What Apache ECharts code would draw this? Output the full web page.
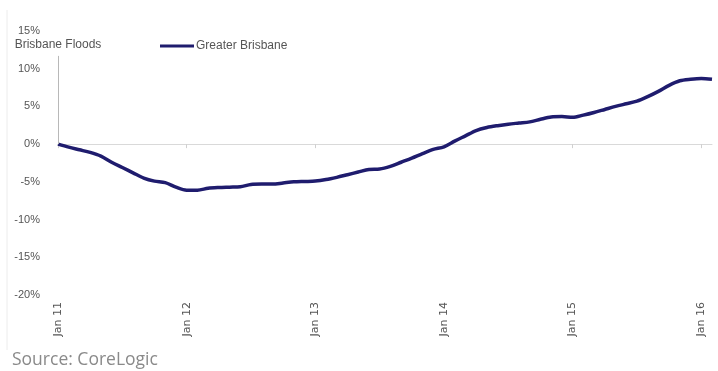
<!DOCTYPE html>
<html>

<head>
    <meta charset="utf-8">
    <title>Greater Brisbane</title>
    <script src="https://cdn.jsdelivr.net/npm/echarts@6/dist/echarts.min.js"></script>
    <style>
        html, body { margin: 0; padding: 0; background: #fff; }
        #chart { width: 718px; height: 371px; }
    </style>
</head>

<body>
    <div id="chart"></div>

    <script type="text/javascript">
        // monthly, Jan 2011 .. Feb 2016
        var months = [
            'Jan 11', 'Feb 11', 'Mar 11', 'Apr 11', 'May 11', 'Jun 11', 'Jul 11', 'Aug 11', 'Sep 11', 'Oct 11', 'Nov 11', 'Dec 11',
            'Jan 12', 'Feb 12', 'Mar 12', 'Apr 12', 'May 12', 'Jun 12', 'Jul 12', 'Aug 12', 'Sep 12', 'Oct 12', 'Nov 12', 'Dec 12',
            'Jan 13', 'Feb 13', 'Mar 13', 'Apr 13', 'May 13', 'Jun 13', 'Jul 13', 'Aug 13', 'Sep 13', 'Oct 13', 'Nov 13', 'Dec 13',
            'Jan 14', 'Feb 14', 'Mar 14', 'Apr 14', 'May 14', 'Jun 14', 'Jul 14', 'Aug 14', 'Sep 14', 'Oct 14', 'Nov 14', 'Dec 14',
            'Jan 15', 'Feb 15', 'Mar 15', 'Apr 15', 'May 15', 'Jun 15', 'Jul 15', 'Aug 15', 'Sep 15', 'Oct 15', 'Nov 15', 'Dec 15',
            'Jan 16', 'Feb 16'
        ];

        // % change since Jan 2011
        var greater_brisbane = [
            0, -0.4, -0.75, -1.1, -1.6, -2.4, -3.1, -3.8, -4.5, -4.9, -5.1, -5.7,
            -6.1, -6.1, -5.85, -5.75, -5.7, -5.65, -5.35, -5.3, -5.3, -5.15, -5.0, -4.95,
            -4.9, -4.7, -4.4, -4.05, -3.7, -3.35, -3.3, -2.95, -2.4, -1.85, -1.25, -0.7,
            -0.35, 0.4, 1.1, 1.8, 2.2, 2.45, 2.65, 2.8, 2.95, 3.3, 3.6, 3.65,
            3.55, 3.85, 4.2, 4.6, 5.0, 5.35, 5.7, 6.3, 7.0, 7.8, 8.4, 8.6,
            8.7, 8.6
        ];

        var y_min = -20;
        var y_max = 15;
        var y_step = 5;

        // flood marker: vertical line at Jan 11 up to this level
        var flood_month = 'Jan 11';
        var flood_top = 11.7;
        var flood_label = 'Brisbane Floods';

        var series_name = 'Greater Brisbane';
        var source_text = 'Source: CoreLogic';

        var chart = echarts.init(document.getElementById('chart'), null, { renderer: 'canvas' });

        var option = {
            animation: false,
            backgroundColor: '#ffffff',
            textStyle: { fontFamily: 'Liberation Sans' },
            grid: { left: 58, right: 6, top: 31, bottom: 76 },
            legend: {
                data: [series_name],
                left: 155,
                top: 35,
                icon: 'rect',
                itemWidth: 34,
                itemHeight: 3,
                itemGap: 2,
                textStyle: { color: '#555', fontSize: 12, padding: [0, 0, 0, -3] }
            },
            xAxis: [{
                type: 'category',
                data: months,
                boundaryGap: false,
                position: 'bottom',
                axisLine: { show: false, onZero: false },
                axisTick: { show: false },
                splitLine: { show: false },
                axisLabel: {
                    rotate: 90,
                    interval: 11,
                    margin: 7,
                    color: '#555',
                    fontSize: 11,
                    fontFamily: 'DejaVu Sans'
                }
            }, {
                type: 'category',
                data: months,
                boundaryGap: false,
                position: 'top',
                axisLine: { show: true, onZero: true, lineStyle: { color: '#d9d9d9', width: 1 } },
                axisTick: { show: true, inside: true, interval: 11, length: 4, lineStyle: { color: '#d0d0d0' } },
                axisLabel: { show: false },
                splitLine: { show: false }
            }],
            yAxis: {
                type: 'value',
                min: y_min,
                max: y_max,
                interval: y_step,
                axisLine: { show: false },
                axisTick: { show: false },
                splitLine: { show: false },
                axisLabel: {
                    formatter: '{value}%',
                    margin: 18,
                    color: '#555',
                    fontSize: 11
                }
            },
            series: [{
                name: series_name,
                type: 'line',
                xAxisIndex: 0,
                data: greater_brisbane,
                symbol: 'none',
                smooth: 0.3,
                lineStyle: { color: '#1f1c6e', width: 3.5 },
                itemStyle: { color: '#1f1c6e' },
                markLine: {
                    silent: true,
                    symbol: 'none',
                    lineStyle: { color: '#b8b8b8', width: 1, type: 'solid' },
                    label: {
                        show: true,
                        position: 'end',
                        distance: 5,
                        formatter: flood_label,
                        color: '#555',
                        fontSize: 12
                    },
                    data: [[
                        { coord: [flood_month, 0] },
                        { coord: [flood_month, flood_top] }
                    ]]
                }
            }],
            graphic: [{
                type: 'line',
                shape: { x1: 7, y1: 10, x2: 7, y2: 350 },
                style: { stroke: '#ececec', lineWidth: 1 }
            }, {
                type: 'text',
                left: 12,
                top: 351,
                style: {
                    text: source_text,
                    fill: '#8a8a8a',
                    font: '17.5px "Open Sans"'
                }
            }]
        };

        chart.setOption(option);
    </script>
</body>

</html>
